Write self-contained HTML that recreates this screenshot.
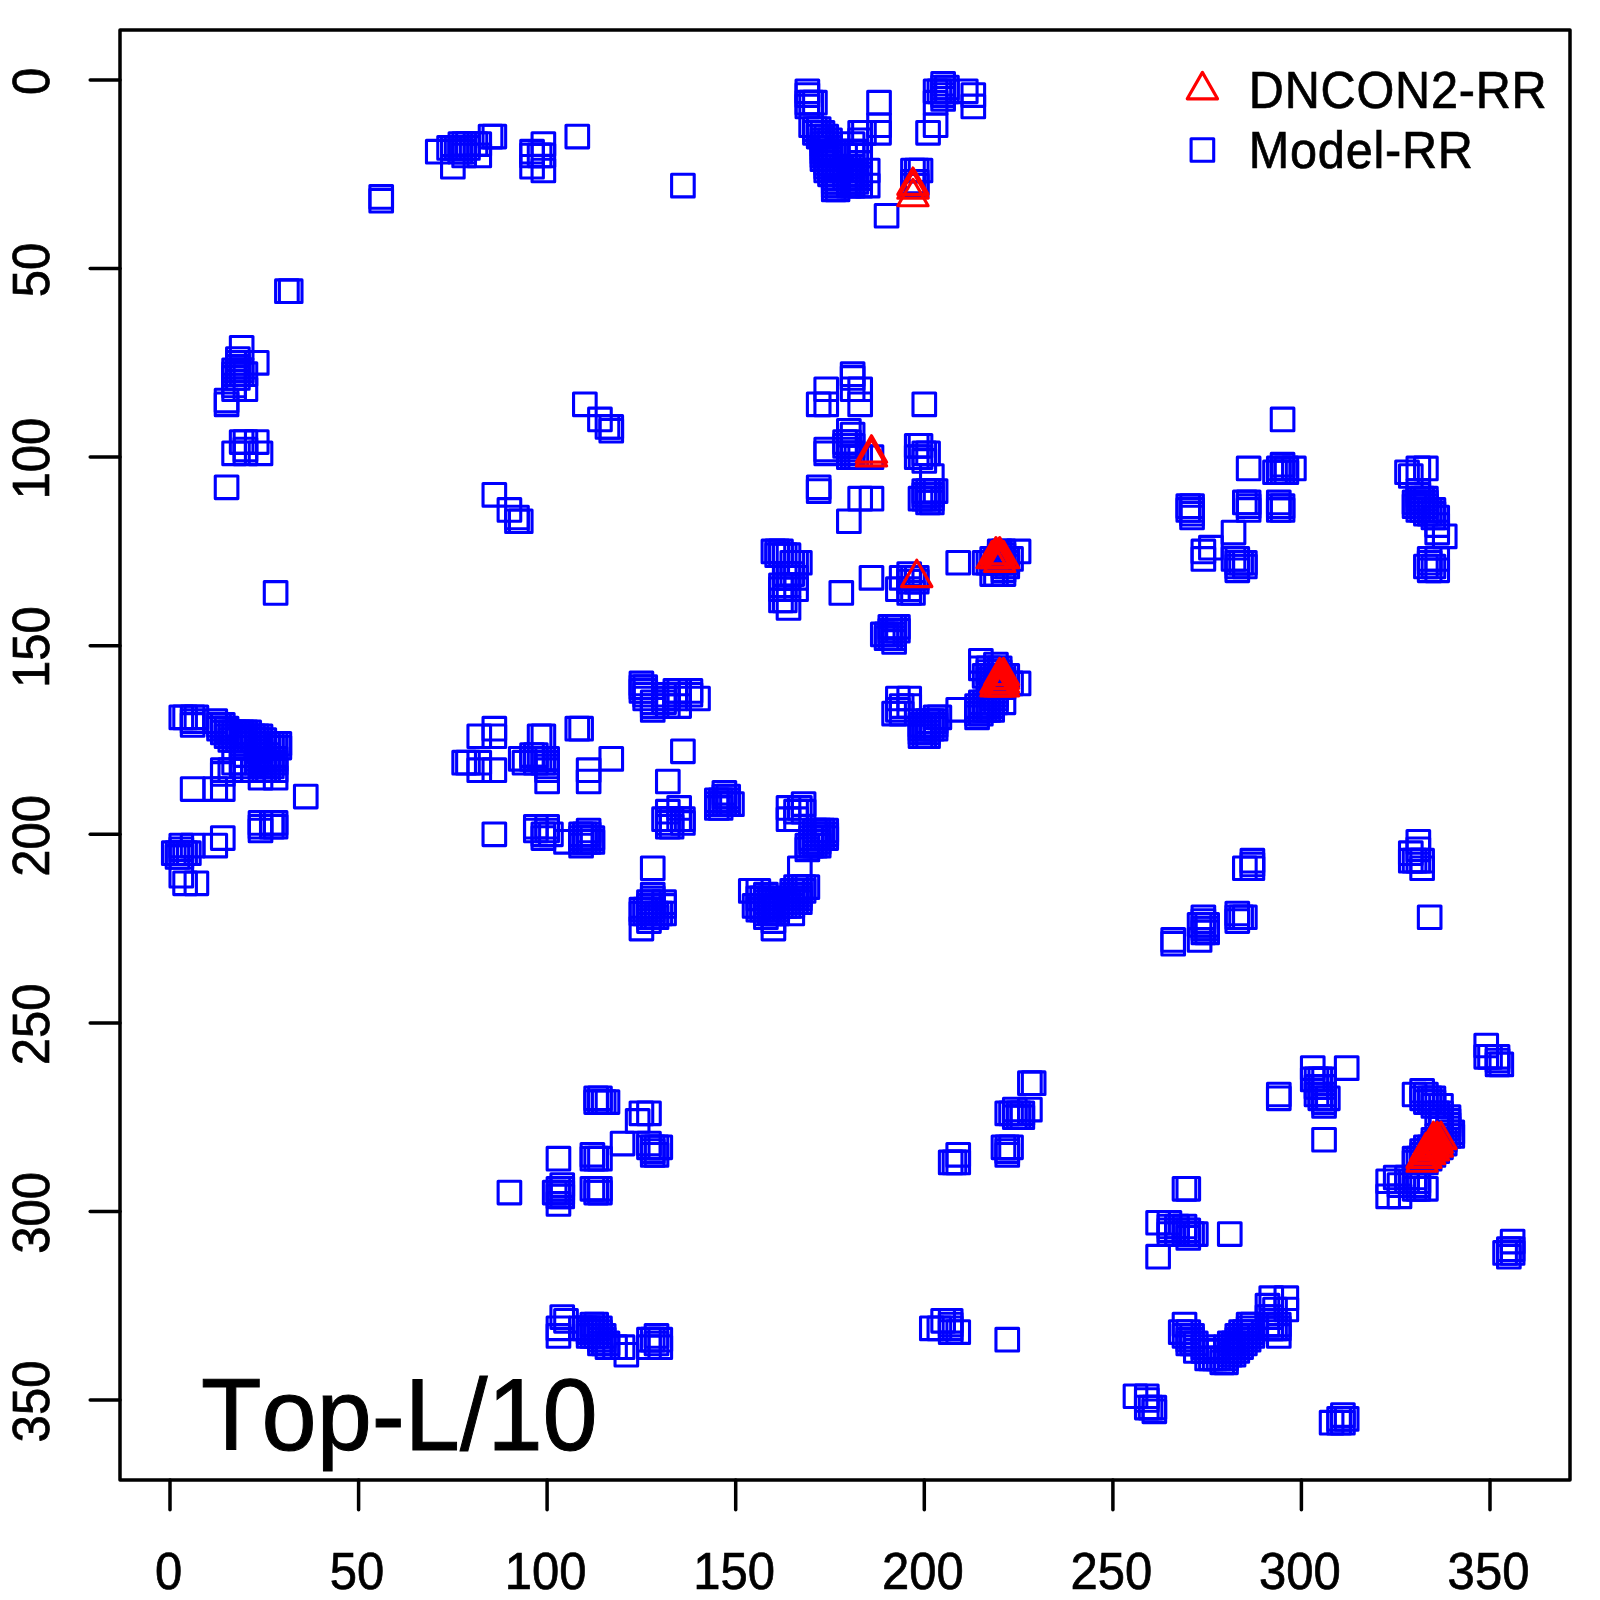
<!DOCTYPE html><html><head><meta charset="utf-8"><title>Top-L/10</title>
<style>html,body{margin:0;padding:0;background:#fff}svg{display:block}text{font-family:"Liberation Sans",sans-serif;fill:#000}</style></head><body>
<svg width="1600" height="1600" viewBox="0 0 1600 1600">
<rect width="1600" height="1600" fill="#fff"/>
<defs><rect id="s" x="-11.3" y="-11.3" width="22.6" height="22.6" fill="none" stroke="#0000ff" stroke-width="3.1" stroke-linejoin="round"/>
<path id="t" d="M0 -17.6 L15.15 8.8 L-15.15 8.8 Z" fill="none" stroke="#ff0000" stroke-width="3.15" stroke-linejoin="round"/></defs>
<g>
<use href="#s" x="381.20" y="196.91"/>
<use href="#s" x="286.91" y="291.20"/>
<use href="#s" x="381.20" y="200.69"/>
<use href="#s" x="290.69" y="291.20"/>
<use href="#s" x="437.77" y="151.66"/>
<use href="#s" x="241.66" y="347.77"/>
<use href="#s" x="449.09" y="147.89"/>
<use href="#s" x="237.89" y="359.09"/>
<use href="#s" x="452.86" y="147.89"/>
<use href="#s" x="237.89" y="362.86"/>
<use href="#s" x="452.86" y="166.74"/>
<use href="#s" x="256.74" y="362.86"/>
<use href="#s" x="490.57" y="136.57"/>
<use href="#s" x="226.57" y="400.57"/>
<use href="#s" x="494.34" y="136.57"/>
<use href="#s" x="226.57" y="404.34"/>
<use href="#s" x="460.40" y="144.11"/>
<use href="#s" x="234.11" y="370.40"/>
<use href="#s" x="464.17" y="144.11"/>
<use href="#s" x="234.11" y="374.17"/>
<use href="#s" x="467.94" y="144.11"/>
<use href="#s" x="234.11" y="377.94"/>
<use href="#s" x="475.49" y="144.11"/>
<use href="#s" x="234.11" y="385.49"/>
<use href="#s" x="479.26" y="144.11"/>
<use href="#s" x="234.11" y="389.26"/>
<use href="#s" x="456.63" y="147.89"/>
<use href="#s" x="237.89" y="366.63"/>
<use href="#s" x="460.40" y="147.89"/>
<use href="#s" x="237.89" y="370.40"/>
<use href="#s" x="464.17" y="147.89"/>
<use href="#s" x="237.89" y="374.17"/>
<use href="#s" x="467.94" y="147.89"/>
<use href="#s" x="237.89" y="377.94"/>
<use href="#s" x="460.40" y="151.66"/>
<use href="#s" x="241.66" y="370.40"/>
<use href="#s" x="464.17" y="151.66"/>
<use href="#s" x="241.66" y="374.17"/>
<use href="#s" x="464.17" y="155.43"/>
<use href="#s" x="245.43" y="374.17"/>
<use href="#s" x="479.26" y="155.43"/>
<use href="#s" x="245.43" y="389.26"/>
<use href="#s" x="532.06" y="151.66"/>
<use href="#s" x="241.66" y="442.06"/>
<use href="#s" x="532.06" y="155.43"/>
<use href="#s" x="245.43" y="442.06"/>
<use href="#s" x="543.37" y="144.11"/>
<use href="#s" x="234.11" y="453.37"/>
<use href="#s" x="543.37" y="155.43"/>
<use href="#s" x="245.43" y="453.37"/>
<use href="#s" x="539.60" y="155.43"/>
<use href="#s" x="245.43" y="449.60"/>
<use href="#s" x="532.06" y="166.74"/>
<use href="#s" x="256.74" y="442.06"/>
<use href="#s" x="543.37" y="170.51"/>
<use href="#s" x="260.51" y="453.37"/>
<use href="#s" x="577.31" y="136.57"/>
<use href="#s" x="226.57" y="487.31"/>
<use href="#s" x="682.91" y="185.60"/>
<use href="#s" x="275.60" y="592.91"/>
<use href="#s" x="807.37" y="91.31"/>
<use href="#s" x="181.31" y="717.37"/>
<use href="#s" x="807.37" y="95.09"/>
<use href="#s" x="185.09" y="717.37"/>
<use href="#s" x="807.37" y="102.63"/>
<use href="#s" x="192.63" y="717.37"/>
<use href="#s" x="811.14" y="102.63"/>
<use href="#s" x="192.63" y="721.14"/>
<use href="#s" x="814.91" y="102.63"/>
<use href="#s" x="192.63" y="724.91"/>
<use href="#s" x="807.37" y="106.40"/>
<use href="#s" x="196.40" y="717.37"/>
<use href="#s" x="811.14" y="125.26"/>
<use href="#s" x="215.26" y="721.14"/>
<use href="#s" x="814.91" y="129.03"/>
<use href="#s" x="219.03" y="724.91"/>
<use href="#s" x="818.69" y="129.03"/>
<use href="#s" x="219.03" y="728.69"/>
<use href="#s" x="814.91" y="132.80"/>
<use href="#s" x="222.80" y="724.91"/>
<use href="#s" x="818.69" y="132.80"/>
<use href="#s" x="222.80" y="728.69"/>
<use href="#s" x="822.46" y="132.80"/>
<use href="#s" x="222.80" y="732.46"/>
<use href="#s" x="818.69" y="136.57"/>
<use href="#s" x="226.57" y="728.69"/>
<use href="#s" x="822.46" y="136.57"/>
<use href="#s" x="226.57" y="732.46"/>
<use href="#s" x="826.23" y="136.57"/>
<use href="#s" x="226.57" y="736.23"/>
<use href="#s" x="822.46" y="140.34"/>
<use href="#s" x="230.34" y="732.46"/>
<use href="#s" x="826.23" y="140.34"/>
<use href="#s" x="230.34" y="736.23"/>
<use href="#s" x="830.00" y="140.34"/>
<use href="#s" x="230.34" y="740.00"/>
<use href="#s" x="822.46" y="144.11"/>
<use href="#s" x="234.11" y="732.46"/>
<use href="#s" x="826.23" y="144.11"/>
<use href="#s" x="234.11" y="736.23"/>
<use href="#s" x="830.00" y="144.11"/>
<use href="#s" x="234.11" y="740.00"/>
<use href="#s" x="822.46" y="147.89"/>
<use href="#s" x="237.89" y="732.46"/>
<use href="#s" x="826.23" y="147.89"/>
<use href="#s" x="237.89" y="736.23"/>
<use href="#s" x="830.00" y="147.89"/>
<use href="#s" x="237.89" y="740.00"/>
<use href="#s" x="822.46" y="151.66"/>
<use href="#s" x="241.66" y="732.46"/>
<use href="#s" x="826.23" y="151.66"/>
<use href="#s" x="241.66" y="736.23"/>
<use href="#s" x="830.00" y="151.66"/>
<use href="#s" x="241.66" y="740.00"/>
<use href="#s" x="833.77" y="151.66"/>
<use href="#s" x="241.66" y="743.77"/>
<use href="#s" x="837.54" y="151.66"/>
<use href="#s" x="241.66" y="747.54"/>
<use href="#s" x="822.46" y="155.43"/>
<use href="#s" x="245.43" y="732.46"/>
<use href="#s" x="826.23" y="155.43"/>
<use href="#s" x="245.43" y="736.23"/>
<use href="#s" x="830.00" y="155.43"/>
<use href="#s" x="245.43" y="740.00"/>
<use href="#s" x="833.77" y="155.43"/>
<use href="#s" x="245.43" y="743.77"/>
<use href="#s" x="837.54" y="155.43"/>
<use href="#s" x="245.43" y="747.54"/>
<use href="#s" x="822.46" y="159.20"/>
<use href="#s" x="249.20" y="732.46"/>
<use href="#s" x="826.23" y="159.20"/>
<use href="#s" x="249.20" y="736.23"/>
<use href="#s" x="830.00" y="159.20"/>
<use href="#s" x="249.20" y="740.00"/>
<use href="#s" x="826.23" y="162.97"/>
<use href="#s" x="252.97" y="736.23"/>
<use href="#s" x="830.00" y="162.97"/>
<use href="#s" x="252.97" y="740.00"/>
<use href="#s" x="826.23" y="166.74"/>
<use href="#s" x="256.74" y="736.23"/>
<use href="#s" x="830.00" y="166.74"/>
<use href="#s" x="256.74" y="740.00"/>
<use href="#s" x="833.77" y="166.74"/>
<use href="#s" x="256.74" y="743.77"/>
<use href="#s" x="837.54" y="166.74"/>
<use href="#s" x="256.74" y="747.54"/>
<use href="#s" x="826.23" y="170.51"/>
<use href="#s" x="260.51" y="736.23"/>
<use href="#s" x="830.00" y="170.51"/>
<use href="#s" x="260.51" y="740.00"/>
<use href="#s" x="833.77" y="170.51"/>
<use href="#s" x="260.51" y="743.77"/>
<use href="#s" x="837.54" y="170.51"/>
<use href="#s" x="260.51" y="747.54"/>
<use href="#s" x="830.00" y="174.29"/>
<use href="#s" x="264.29" y="740.00"/>
<use href="#s" x="833.77" y="174.29"/>
<use href="#s" x="264.29" y="743.77"/>
<use href="#s" x="837.54" y="174.29"/>
<use href="#s" x="264.29" y="747.54"/>
<use href="#s" x="833.77" y="178.06"/>
<use href="#s" x="268.06" y="743.77"/>
<use href="#s" x="837.54" y="178.06"/>
<use href="#s" x="268.06" y="747.54"/>
<use href="#s" x="833.77" y="181.83"/>
<use href="#s" x="271.83" y="743.77"/>
<use href="#s" x="837.54" y="181.83"/>
<use href="#s" x="271.83" y="747.54"/>
<use href="#s" x="833.77" y="185.60"/>
<use href="#s" x="275.60" y="743.77"/>
<use href="#s" x="837.54" y="185.60"/>
<use href="#s" x="275.60" y="747.54"/>
<use href="#s" x="833.77" y="189.37"/>
<use href="#s" x="279.37" y="743.77"/>
<use href="#s" x="837.54" y="189.37"/>
<use href="#s" x="279.37" y="747.54"/>
<use href="#s" x="879.03" y="102.63"/>
<use href="#s" x="192.63" y="789.03"/>
<use href="#s" x="879.03" y="132.80"/>
<use href="#s" x="222.80" y="789.03"/>
<use href="#s" x="879.03" y="125.26"/>
<use href="#s" x="215.26" y="789.03"/>
<use href="#s" x="860.17" y="132.80"/>
<use href="#s" x="222.80" y="770.17"/>
<use href="#s" x="863.94" y="132.80"/>
<use href="#s" x="222.80" y="773.94"/>
<use href="#s" x="860.17" y="140.34"/>
<use href="#s" x="230.34" y="770.17"/>
<use href="#s" x="852.63" y="144.11"/>
<use href="#s" x="234.11" y="762.63"/>
<use href="#s" x="852.63" y="151.66"/>
<use href="#s" x="241.66" y="762.63"/>
<use href="#s" x="856.40" y="151.66"/>
<use href="#s" x="241.66" y="766.40"/>
<use href="#s" x="845.09" y="155.43"/>
<use href="#s" x="245.43" y="755.09"/>
<use href="#s" x="860.17" y="155.43"/>
<use href="#s" x="245.43" y="770.17"/>
<use href="#s" x="860.17" y="162.97"/>
<use href="#s" x="252.97" y="770.17"/>
<use href="#s" x="867.71" y="170.51"/>
<use href="#s" x="260.51" y="777.71"/>
<use href="#s" x="867.71" y="185.60"/>
<use href="#s" x="275.60" y="777.71"/>
<use href="#s" x="841.31" y="166.74"/>
<use href="#s" x="256.74" y="751.31"/>
<use href="#s" x="845.09" y="166.74"/>
<use href="#s" x="256.74" y="755.09"/>
<use href="#s" x="848.86" y="166.74"/>
<use href="#s" x="256.74" y="758.86"/>
<use href="#s" x="852.63" y="166.74"/>
<use href="#s" x="256.74" y="762.63"/>
<use href="#s" x="841.31" y="170.51"/>
<use href="#s" x="260.51" y="751.31"/>
<use href="#s" x="845.09" y="170.51"/>
<use href="#s" x="260.51" y="755.09"/>
<use href="#s" x="848.86" y="170.51"/>
<use href="#s" x="260.51" y="758.86"/>
<use href="#s" x="852.63" y="170.51"/>
<use href="#s" x="260.51" y="762.63"/>
<use href="#s" x="856.40" y="170.51"/>
<use href="#s" x="260.51" y="766.40"/>
<use href="#s" x="845.09" y="174.29"/>
<use href="#s" x="264.29" y="755.09"/>
<use href="#s" x="848.86" y="174.29"/>
<use href="#s" x="264.29" y="758.86"/>
<use href="#s" x="852.63" y="174.29"/>
<use href="#s" x="264.29" y="762.63"/>
<use href="#s" x="856.40" y="174.29"/>
<use href="#s" x="264.29" y="766.40"/>
<use href="#s" x="860.17" y="174.29"/>
<use href="#s" x="264.29" y="770.17"/>
<use href="#s" x="845.09" y="178.06"/>
<use href="#s" x="268.06" y="755.09"/>
<use href="#s" x="848.86" y="178.06"/>
<use href="#s" x="268.06" y="758.86"/>
<use href="#s" x="852.63" y="178.06"/>
<use href="#s" x="268.06" y="762.63"/>
<use href="#s" x="856.40" y="178.06"/>
<use href="#s" x="268.06" y="766.40"/>
<use href="#s" x="860.17" y="178.06"/>
<use href="#s" x="268.06" y="770.17"/>
<use href="#s" x="848.86" y="181.83"/>
<use href="#s" x="271.83" y="758.86"/>
<use href="#s" x="852.63" y="181.83"/>
<use href="#s" x="271.83" y="762.63"/>
<use href="#s" x="856.40" y="181.83"/>
<use href="#s" x="271.83" y="766.40"/>
<use href="#s" x="848.86" y="185.60"/>
<use href="#s" x="275.60" y="758.86"/>
<use href="#s" x="852.63" y="185.60"/>
<use href="#s" x="275.60" y="762.63"/>
<use href="#s" x="860.17" y="185.60"/>
<use href="#s" x="275.60" y="770.17"/>
<use href="#s" x="943.14" y="83.77"/>
<use href="#s" x="173.77" y="853.14"/>
<use href="#s" x="943.14" y="87.54"/>
<use href="#s" x="177.54" y="853.14"/>
<use href="#s" x="943.14" y="91.31"/>
<use href="#s" x="181.31" y="853.14"/>
<use href="#s" x="943.14" y="95.09"/>
<use href="#s" x="185.09" y="853.14"/>
<use href="#s" x="943.14" y="98.86"/>
<use href="#s" x="188.86" y="853.14"/>
<use href="#s" x="935.60" y="91.31"/>
<use href="#s" x="181.31" y="845.60"/>
<use href="#s" x="935.60" y="102.63"/>
<use href="#s" x="192.63" y="845.60"/>
<use href="#s" x="939.37" y="91.31"/>
<use href="#s" x="181.31" y="849.37"/>
<use href="#s" x="946.91" y="87.54"/>
<use href="#s" x="177.54" y="856.91"/>
<use href="#s" x="946.91" y="91.31"/>
<use href="#s" x="181.31" y="856.91"/>
<use href="#s" x="965.77" y="91.31"/>
<use href="#s" x="181.31" y="875.77"/>
<use href="#s" x="973.31" y="95.09"/>
<use href="#s" x="185.09" y="883.31"/>
<use href="#s" x="973.31" y="106.40"/>
<use href="#s" x="196.40" y="883.31"/>
<use href="#s" x="935.60" y="125.26"/>
<use href="#s" x="215.26" y="845.60"/>
<use href="#s" x="928.06" y="132.80"/>
<use href="#s" x="222.80" y="838.06"/>
<use href="#s" x="912.97" y="170.51"/>
<use href="#s" x="260.51" y="822.97"/>
<use href="#s" x="916.74" y="170.51"/>
<use href="#s" x="260.51" y="826.74"/>
<use href="#s" x="920.51" y="170.51"/>
<use href="#s" x="260.51" y="830.51"/>
<use href="#s" x="912.97" y="181.83"/>
<use href="#s" x="271.83" y="822.97"/>
<use href="#s" x="912.97" y="185.60"/>
<use href="#s" x="275.60" y="822.97"/>
<use href="#s" x="916.74" y="181.83"/>
<use href="#s" x="271.83" y="826.74"/>
<use href="#s" x="916.74" y="185.60"/>
<use href="#s" x="275.60" y="826.74"/>
<use href="#s" x="886.57" y="215.77"/>
<use href="#s" x="305.77" y="796.57"/>
<use href="#s" x="584.86" y="404.34"/>
<use href="#s" x="494.34" y="494.86"/>
<use href="#s" x="599.94" y="419.43"/>
<use href="#s" x="509.43" y="509.94"/>
<use href="#s" x="607.49" y="426.97"/>
<use href="#s" x="516.97" y="517.49"/>
<use href="#s" x="611.26" y="426.97"/>
<use href="#s" x="516.97" y="521.26"/>
<use href="#s" x="611.26" y="430.74"/>
<use href="#s" x="520.74" y="521.26"/>
<use href="#s" x="924.29" y="404.34"/>
<use href="#s" x="494.34" y="834.29"/>
<use href="#s" x="848.86" y="521.26"/>
<use href="#s" x="611.26" y="758.86"/>
<use href="#s" x="818.69" y="487.31"/>
<use href="#s" x="577.31" y="728.69"/>
<use href="#s" x="818.69" y="491.09"/>
<use href="#s" x="581.09" y="728.69"/>
<use href="#s" x="860.17" y="498.63"/>
<use href="#s" x="588.63" y="770.17"/>
<use href="#s" x="871.49" y="498.63"/>
<use href="#s" x="588.63" y="781.49"/>
<use href="#s" x="852.63" y="374.17"/>
<use href="#s" x="464.17" y="762.63"/>
<use href="#s" x="852.63" y="377.94"/>
<use href="#s" x="467.94" y="762.63"/>
<use href="#s" x="852.63" y="389.26"/>
<use href="#s" x="479.26" y="762.63"/>
<use href="#s" x="826.23" y="389.26"/>
<use href="#s" x="479.26" y="736.23"/>
<use href="#s" x="818.69" y="404.34"/>
<use href="#s" x="494.34" y="728.69"/>
<use href="#s" x="826.23" y="404.34"/>
<use href="#s" x="494.34" y="736.23"/>
<use href="#s" x="860.17" y="389.26"/>
<use href="#s" x="479.26" y="770.17"/>
<use href="#s" x="860.17" y="404.34"/>
<use href="#s" x="494.34" y="770.17"/>
<use href="#s" x="826.23" y="449.60"/>
<use href="#s" x="539.60" y="736.23"/>
<use href="#s" x="826.23" y="453.37"/>
<use href="#s" x="543.37" y="736.23"/>
<use href="#s" x="848.86" y="430.74"/>
<use href="#s" x="520.74" y="758.86"/>
<use href="#s" x="852.63" y="434.51"/>
<use href="#s" x="524.51" y="762.63"/>
<use href="#s" x="871.49" y="457.14"/>
<use href="#s" x="547.14" y="781.49"/>
<use href="#s" x="845.09" y="442.06"/>
<use href="#s" x="532.06" y="755.09"/>
<use href="#s" x="845.09" y="445.83"/>
<use href="#s" x="535.83" y="755.09"/>
<use href="#s" x="848.86" y="442.06"/>
<use href="#s" x="532.06" y="758.86"/>
<use href="#s" x="848.86" y="445.83"/>
<use href="#s" x="535.83" y="758.86"/>
<use href="#s" x="848.86" y="449.60"/>
<use href="#s" x="539.60" y="758.86"/>
<use href="#s" x="848.86" y="453.37"/>
<use href="#s" x="543.37" y="758.86"/>
<use href="#s" x="848.86" y="457.14"/>
<use href="#s" x="547.14" y="758.86"/>
<use href="#s" x="852.63" y="445.83"/>
<use href="#s" x="535.83" y="762.63"/>
<use href="#s" x="852.63" y="453.37"/>
<use href="#s" x="543.37" y="762.63"/>
<use href="#s" x="852.63" y="457.14"/>
<use href="#s" x="547.14" y="762.63"/>
<use href="#s" x="856.40" y="457.14"/>
<use href="#s" x="547.14" y="766.40"/>
<use href="#s" x="860.17" y="457.14"/>
<use href="#s" x="547.14" y="770.17"/>
<use href="#s" x="916.74" y="445.83"/>
<use href="#s" x="535.83" y="826.74"/>
<use href="#s" x="920.51" y="445.83"/>
<use href="#s" x="535.83" y="830.51"/>
<use href="#s" x="916.74" y="457.14"/>
<use href="#s" x="547.14" y="826.74"/>
<use href="#s" x="920.51" y="457.14"/>
<use href="#s" x="547.14" y="830.51"/>
<use href="#s" x="924.29" y="453.37"/>
<use href="#s" x="543.37" y="834.29"/>
<use href="#s" x="928.06" y="453.37"/>
<use href="#s" x="543.37" y="838.06"/>
<use href="#s" x="924.29" y="460.91"/>
<use href="#s" x="550.91" y="834.29"/>
<use href="#s" x="931.83" y="476.00"/>
<use href="#s" x="566.00" y="841.83"/>
<use href="#s" x="924.29" y="491.09"/>
<use href="#s" x="581.09" y="834.29"/>
<use href="#s" x="928.06" y="491.09"/>
<use href="#s" x="581.09" y="838.06"/>
<use href="#s" x="931.83" y="491.09"/>
<use href="#s" x="581.09" y="841.83"/>
<use href="#s" x="935.60" y="491.09"/>
<use href="#s" x="581.09" y="845.60"/>
<use href="#s" x="924.29" y="494.86"/>
<use href="#s" x="584.86" y="834.29"/>
<use href="#s" x="928.06" y="494.86"/>
<use href="#s" x="584.86" y="838.06"/>
<use href="#s" x="931.83" y="494.86"/>
<use href="#s" x="584.86" y="841.83"/>
<use href="#s" x="920.51" y="498.63"/>
<use href="#s" x="588.63" y="830.51"/>
<use href="#s" x="924.29" y="498.63"/>
<use href="#s" x="588.63" y="834.29"/>
<use href="#s" x="928.06" y="498.63"/>
<use href="#s" x="588.63" y="838.06"/>
<use href="#s" x="931.83" y="498.63"/>
<use href="#s" x="588.63" y="841.83"/>
<use href="#s" x="928.06" y="502.40"/>
<use href="#s" x="592.40" y="838.06"/>
<use href="#s" x="931.83" y="502.40"/>
<use href="#s" x="592.40" y="841.83"/>
<use href="#s" x="773.43" y="551.43"/>
<use href="#s" x="641.43" y="683.43"/>
<use href="#s" x="777.20" y="551.43"/>
<use href="#s" x="641.43" y="687.20"/>
<use href="#s" x="780.97" y="551.43"/>
<use href="#s" x="641.43" y="690.97"/>
<use href="#s" x="777.20" y="555.20"/>
<use href="#s" x="645.20" y="687.20"/>
<use href="#s" x="780.97" y="555.20"/>
<use href="#s" x="645.20" y="690.97"/>
<use href="#s" x="784.74" y="555.20"/>
<use href="#s" x="645.20" y="694.74"/>
<use href="#s" x="788.51" y="555.20"/>
<use href="#s" x="645.20" y="698.51"/>
<use href="#s" x="792.29" y="562.74"/>
<use href="#s" x="652.74" y="702.29"/>
<use href="#s" x="796.06" y="562.74"/>
<use href="#s" x="652.74" y="706.06"/>
<use href="#s" x="799.83" y="562.74"/>
<use href="#s" x="652.74" y="709.83"/>
<use href="#s" x="784.74" y="574.06"/>
<use href="#s" x="664.06" y="694.74"/>
<use href="#s" x="788.51" y="574.06"/>
<use href="#s" x="664.06" y="698.51"/>
<use href="#s" x="792.29" y="574.06"/>
<use href="#s" x="664.06" y="702.29"/>
<use href="#s" x="788.51" y="577.83"/>
<use href="#s" x="667.83" y="698.51"/>
<use href="#s" x="796.06" y="577.83"/>
<use href="#s" x="667.83" y="706.06"/>
<use href="#s" x="780.97" y="585.37"/>
<use href="#s" x="675.37" y="690.97"/>
<use href="#s" x="784.74" y="585.37"/>
<use href="#s" x="675.37" y="694.74"/>
<use href="#s" x="788.51" y="585.37"/>
<use href="#s" x="675.37" y="698.51"/>
<use href="#s" x="780.97" y="589.14"/>
<use href="#s" x="679.14" y="690.97"/>
<use href="#s" x="796.06" y="589.14"/>
<use href="#s" x="679.14" y="706.06"/>
<use href="#s" x="780.97" y="600.46"/>
<use href="#s" x="690.46" y="690.97"/>
<use href="#s" x="784.74" y="600.46"/>
<use href="#s" x="690.46" y="694.74"/>
<use href="#s" x="788.51" y="608.00"/>
<use href="#s" x="698.00" y="698.51"/>
<use href="#s" x="841.31" y="592.91"/>
<use href="#s" x="682.91" y="751.31"/>
<use href="#s" x="871.49" y="577.83"/>
<use href="#s" x="667.83" y="781.49"/>
<use href="#s" x="958.23" y="562.74"/>
<use href="#s" x="652.74" y="868.23"/>
<use href="#s" x="901.66" y="577.83"/>
<use href="#s" x="667.83" y="811.66"/>
<use href="#s" x="897.89" y="589.14"/>
<use href="#s" x="679.14" y="807.89"/>
<use href="#s" x="909.20" y="574.06"/>
<use href="#s" x="664.06" y="819.20"/>
<use href="#s" x="909.20" y="577.83"/>
<use href="#s" x="667.83" y="819.20"/>
<use href="#s" x="912.97" y="577.83"/>
<use href="#s" x="667.83" y="822.97"/>
<use href="#s" x="916.74" y="577.83"/>
<use href="#s" x="667.83" y="826.74"/>
<use href="#s" x="916.74" y="581.60"/>
<use href="#s" x="671.60" y="826.74"/>
<use href="#s" x="909.20" y="581.60"/>
<use href="#s" x="671.60" y="819.20"/>
<use href="#s" x="909.20" y="592.91"/>
<use href="#s" x="682.91" y="819.20"/>
<use href="#s" x="912.97" y="592.91"/>
<use href="#s" x="682.91" y="822.97"/>
<use href="#s" x="909.20" y="589.14"/>
<use href="#s" x="679.14" y="819.20"/>
<use href="#s" x="999.71" y="551.43"/>
<use href="#s" x="641.43" y="909.71"/>
<use href="#s" x="1003.49" y="551.43"/>
<use href="#s" x="641.43" y="913.49"/>
<use href="#s" x="1018.57" y="551.43"/>
<use href="#s" x="641.43" y="928.57"/>
<use href="#s" x="992.17" y="558.97"/>
<use href="#s" x="648.97" y="902.17"/>
<use href="#s" x="1011.03" y="558.97"/>
<use href="#s" x="648.97" y="921.03"/>
<use href="#s" x="984.63" y="562.74"/>
<use href="#s" x="652.74" y="894.63"/>
<use href="#s" x="988.40" y="562.74"/>
<use href="#s" x="652.74" y="898.40"/>
<use href="#s" x="1007.26" y="566.51"/>
<use href="#s" x="656.51" y="917.26"/>
<use href="#s" x="1003.49" y="570.29"/>
<use href="#s" x="660.29" y="913.49"/>
<use href="#s" x="992.17" y="574.06"/>
<use href="#s" x="664.06" y="902.17"/>
<use href="#s" x="1003.49" y="574.06"/>
<use href="#s" x="664.06" y="913.49"/>
<use href="#s" x="995.94" y="574.06"/>
<use href="#s" x="664.06" y="905.94"/>
<use href="#s" x="890.34" y="626.86"/>
<use href="#s" x="716.86" y="800.34"/>
<use href="#s" x="894.11" y="626.86"/>
<use href="#s" x="716.86" y="804.11"/>
<use href="#s" x="897.89" y="626.86"/>
<use href="#s" x="716.86" y="807.89"/>
<use href="#s" x="890.34" y="630.63"/>
<use href="#s" x="720.63" y="800.34"/>
<use href="#s" x="894.11" y="630.63"/>
<use href="#s" x="720.63" y="804.11"/>
<use href="#s" x="897.89" y="630.63"/>
<use href="#s" x="720.63" y="807.89"/>
<use href="#s" x="882.80" y="634.40"/>
<use href="#s" x="724.40" y="792.80"/>
<use href="#s" x="886.57" y="634.40"/>
<use href="#s" x="724.40" y="796.57"/>
<use href="#s" x="890.34" y="634.40"/>
<use href="#s" x="724.40" y="800.34"/>
<use href="#s" x="894.11" y="634.40"/>
<use href="#s" x="724.40" y="804.11"/>
<use href="#s" x="886.57" y="638.17"/>
<use href="#s" x="728.17" y="796.57"/>
<use href="#s" x="890.34" y="638.17"/>
<use href="#s" x="728.17" y="800.34"/>
<use href="#s" x="894.11" y="638.17"/>
<use href="#s" x="728.17" y="804.11"/>
<use href="#s" x="894.11" y="641.94"/>
<use href="#s" x="731.94" y="804.11"/>
<use href="#s" x="897.89" y="698.51"/>
<use href="#s" x="788.51" y="807.89"/>
<use href="#s" x="909.20" y="698.51"/>
<use href="#s" x="788.51" y="819.20"/>
<use href="#s" x="909.20" y="706.06"/>
<use href="#s" x="796.06" y="819.20"/>
<use href="#s" x="901.66" y="706.06"/>
<use href="#s" x="796.06" y="811.66"/>
<use href="#s" x="897.89" y="709.83"/>
<use href="#s" x="799.83" y="807.89"/>
<use href="#s" x="894.11" y="713.60"/>
<use href="#s" x="803.60" y="804.11"/>
<use href="#s" x="901.66" y="713.60"/>
<use href="#s" x="803.60" y="811.66"/>
<use href="#s" x="958.23" y="709.83"/>
<use href="#s" x="799.83" y="868.23"/>
<use href="#s" x="935.60" y="717.37"/>
<use href="#s" x="807.37" y="845.60"/>
<use href="#s" x="939.37" y="717.37"/>
<use href="#s" x="807.37" y="849.37"/>
<use href="#s" x="928.06" y="721.14"/>
<use href="#s" x="811.14" y="838.06"/>
<use href="#s" x="931.83" y="721.14"/>
<use href="#s" x="811.14" y="841.83"/>
<use href="#s" x="935.60" y="721.14"/>
<use href="#s" x="811.14" y="845.60"/>
<use href="#s" x="920.51" y="724.91"/>
<use href="#s" x="814.91" y="830.51"/>
<use href="#s" x="924.29" y="724.91"/>
<use href="#s" x="814.91" y="834.29"/>
<use href="#s" x="928.06" y="724.91"/>
<use href="#s" x="814.91" y="838.06"/>
<use href="#s" x="931.83" y="724.91"/>
<use href="#s" x="814.91" y="841.83"/>
<use href="#s" x="935.60" y="724.91"/>
<use href="#s" x="814.91" y="845.60"/>
<use href="#s" x="920.51" y="728.69"/>
<use href="#s" x="818.69" y="830.51"/>
<use href="#s" x="924.29" y="728.69"/>
<use href="#s" x="818.69" y="834.29"/>
<use href="#s" x="928.06" y="728.69"/>
<use href="#s" x="818.69" y="838.06"/>
<use href="#s" x="931.83" y="728.69"/>
<use href="#s" x="818.69" y="841.83"/>
<use href="#s" x="935.60" y="728.69"/>
<use href="#s" x="818.69" y="845.60"/>
<use href="#s" x="920.51" y="732.46"/>
<use href="#s" x="822.46" y="830.51"/>
<use href="#s" x="924.29" y="732.46"/>
<use href="#s" x="822.46" y="834.29"/>
<use href="#s" x="928.06" y="732.46"/>
<use href="#s" x="822.46" y="838.06"/>
<use href="#s" x="920.51" y="736.23"/>
<use href="#s" x="826.23" y="830.51"/>
<use href="#s" x="924.29" y="736.23"/>
<use href="#s" x="826.23" y="834.29"/>
<use href="#s" x="928.06" y="736.23"/>
<use href="#s" x="826.23" y="838.06"/>
<use href="#s" x="980.86" y="660.80"/>
<use href="#s" x="750.80" y="890.86"/>
<use href="#s" x="980.86" y="668.34"/>
<use href="#s" x="758.34" y="890.86"/>
<use href="#s" x="988.40" y="668.34"/>
<use href="#s" x="758.34" y="898.40"/>
<use href="#s" x="984.63" y="675.89"/>
<use href="#s" x="765.89" y="894.63"/>
<use href="#s" x="988.40" y="672.11"/>
<use href="#s" x="762.11" y="898.40"/>
<use href="#s" x="988.40" y="675.89"/>
<use href="#s" x="765.89" y="898.40"/>
<use href="#s" x="988.40" y="679.66"/>
<use href="#s" x="769.66" y="898.40"/>
<use href="#s" x="992.17" y="675.89"/>
<use href="#s" x="765.89" y="902.17"/>
<use href="#s" x="992.17" y="679.66"/>
<use href="#s" x="769.66" y="902.17"/>
<use href="#s" x="992.17" y="683.43"/>
<use href="#s" x="773.43" y="902.17"/>
<use href="#s" x="995.94" y="664.57"/>
<use href="#s" x="754.57" y="905.94"/>
<use href="#s" x="995.94" y="668.34"/>
<use href="#s" x="758.34" y="905.94"/>
<use href="#s" x="995.94" y="672.11"/>
<use href="#s" x="762.11" y="905.94"/>
<use href="#s" x="999.71" y="668.34"/>
<use href="#s" x="758.34" y="909.71"/>
<use href="#s" x="999.71" y="672.11"/>
<use href="#s" x="762.11" y="909.71"/>
<use href="#s" x="1007.26" y="675.89"/>
<use href="#s" x="765.89" y="917.26"/>
<use href="#s" x="1011.03" y="683.43"/>
<use href="#s" x="773.43" y="921.03"/>
<use href="#s" x="1018.57" y="683.43"/>
<use href="#s" x="773.43" y="928.57"/>
<use href="#s" x="980.86" y="702.29"/>
<use href="#s" x="792.29" y="890.86"/>
<use href="#s" x="984.63" y="702.29"/>
<use href="#s" x="792.29" y="894.63"/>
<use href="#s" x="988.40" y="702.29"/>
<use href="#s" x="792.29" y="898.40"/>
<use href="#s" x="992.17" y="702.29"/>
<use href="#s" x="792.29" y="902.17"/>
<use href="#s" x="995.94" y="702.29"/>
<use href="#s" x="792.29" y="905.94"/>
<use href="#s" x="1003.49" y="702.29"/>
<use href="#s" x="792.29" y="913.49"/>
<use href="#s" x="977.09" y="706.06"/>
<use href="#s" x="796.06" y="887.09"/>
<use href="#s" x="980.86" y="706.06"/>
<use href="#s" x="796.06" y="890.86"/>
<use href="#s" x="984.63" y="706.06"/>
<use href="#s" x="796.06" y="894.63"/>
<use href="#s" x="988.40" y="706.06"/>
<use href="#s" x="796.06" y="898.40"/>
<use href="#s" x="992.17" y="706.06"/>
<use href="#s" x="796.06" y="902.17"/>
<use href="#s" x="977.09" y="709.83"/>
<use href="#s" x="799.83" y="887.09"/>
<use href="#s" x="980.86" y="709.83"/>
<use href="#s" x="799.83" y="890.86"/>
<use href="#s" x="984.63" y="709.83"/>
<use href="#s" x="799.83" y="894.63"/>
<use href="#s" x="988.40" y="709.83"/>
<use href="#s" x="799.83" y="898.40"/>
<use href="#s" x="992.17" y="709.83"/>
<use href="#s" x="799.83" y="902.17"/>
<use href="#s" x="977.09" y="713.60"/>
<use href="#s" x="803.60" y="887.09"/>
<use href="#s" x="980.86" y="713.60"/>
<use href="#s" x="803.60" y="890.86"/>
<use href="#s" x="977.09" y="717.37"/>
<use href="#s" x="807.37" y="887.09"/>
<use href="#s" x="995.94" y="675.89"/>
<use href="#s" x="765.89" y="905.94"/>
<use href="#s" x="999.71" y="675.89"/>
<use href="#s" x="765.89" y="909.71"/>
<use href="#s" x="1003.49" y="675.89"/>
<use href="#s" x="765.89" y="913.49"/>
<use href="#s" x="995.94" y="679.66"/>
<use href="#s" x="769.66" y="905.94"/>
<use href="#s" x="999.71" y="679.66"/>
<use href="#s" x="769.66" y="909.71"/>
<use href="#s" x="1003.49" y="679.66"/>
<use href="#s" x="769.66" y="913.49"/>
<use href="#s" x="995.94" y="683.43"/>
<use href="#s" x="773.43" y="905.94"/>
<use href="#s" x="999.71" y="683.43"/>
<use href="#s" x="773.43" y="909.71"/>
<use href="#s" x="1003.49" y="683.43"/>
<use href="#s" x="773.43" y="913.49"/>
<use href="#s" x="992.17" y="687.20"/>
<use href="#s" x="777.20" y="902.17"/>
<use href="#s" x="995.94" y="687.20"/>
<use href="#s" x="777.20" y="905.94"/>
<use href="#s" x="999.71" y="687.20"/>
<use href="#s" x="777.20" y="909.71"/>
<use href="#s" x="1003.49" y="687.20"/>
<use href="#s" x="777.20" y="913.49"/>
<use href="#s" x="992.17" y="690.97"/>
<use href="#s" x="780.97" y="902.17"/>
<use href="#s" x="995.94" y="690.97"/>
<use href="#s" x="780.97" y="905.94"/>
<use href="#s" x="992.17" y="694.74"/>
<use href="#s" x="784.74" y="902.17"/>
<use href="#s" x="995.94" y="694.74"/>
<use href="#s" x="784.74" y="905.94"/>
<use href="#s" x="992.17" y="698.51"/>
<use href="#s" x="788.51" y="902.17"/>
<use href="#s" x="995.94" y="698.51"/>
<use href="#s" x="788.51" y="905.94"/>
<use href="#s" x="999.71" y="555.20"/>
<use href="#s" x="645.20" y="909.71"/>
<use href="#s" x="1003.49" y="555.20"/>
<use href="#s" x="645.20" y="913.49"/>
<use href="#s" x="995.94" y="558.97"/>
<use href="#s" x="648.97" y="905.94"/>
<use href="#s" x="999.71" y="558.97"/>
<use href="#s" x="648.97" y="909.71"/>
<use href="#s" x="1003.49" y="558.97"/>
<use href="#s" x="648.97" y="913.49"/>
<use href="#s" x="1007.26" y="558.97"/>
<use href="#s" x="648.97" y="917.26"/>
<use href="#s" x="992.17" y="562.74"/>
<use href="#s" x="652.74" y="902.17"/>
<use href="#s" x="995.94" y="562.74"/>
<use href="#s" x="652.74" y="905.94"/>
<use href="#s" x="999.71" y="562.74"/>
<use href="#s" x="652.74" y="909.71"/>
<use href="#s" x="1003.49" y="562.74"/>
<use href="#s" x="652.74" y="913.49"/>
<use href="#s" x="1007.26" y="562.74"/>
<use href="#s" x="652.74" y="917.26"/>
<use href="#s" x="1003.49" y="566.51"/>
<use href="#s" x="656.51" y="913.49"/>
<use href="#s" x="1282.57" y="419.43"/>
<use href="#s" x="509.43" y="1192.57"/>
<use href="#s" x="1248.63" y="468.46"/>
<use href="#s" x="558.46" y="1158.63"/>
<use href="#s" x="1282.57" y="464.69"/>
<use href="#s" x="554.69" y="1192.57"/>
<use href="#s" x="1278.80" y="468.46"/>
<use href="#s" x="558.46" y="1188.80"/>
<use href="#s" x="1282.57" y="468.46"/>
<use href="#s" x="558.46" y="1192.57"/>
<use href="#s" x="1286.34" y="468.46"/>
<use href="#s" x="558.46" y="1196.34"/>
<use href="#s" x="1293.89" y="468.46"/>
<use href="#s" x="558.46" y="1203.89"/>
<use href="#s" x="1275.03" y="472.23"/>
<use href="#s" x="562.23" y="1185.03"/>
<use href="#s" x="1278.80" y="472.23"/>
<use href="#s" x="562.23" y="1188.80"/>
<use href="#s" x="1282.57" y="472.23"/>
<use href="#s" x="562.23" y="1192.57"/>
<use href="#s" x="1286.34" y="472.23"/>
<use href="#s" x="562.23" y="1196.34"/>
<use href="#s" x="1244.86" y="502.40"/>
<use href="#s" x="592.40" y="1154.86"/>
<use href="#s" x="1248.63" y="502.40"/>
<use href="#s" x="592.40" y="1158.63"/>
<use href="#s" x="1248.63" y="506.17"/>
<use href="#s" x="596.17" y="1158.63"/>
<use href="#s" x="1248.63" y="509.94"/>
<use href="#s" x="599.94" y="1158.63"/>
<use href="#s" x="1278.80" y="502.40"/>
<use href="#s" x="592.40" y="1188.80"/>
<use href="#s" x="1278.80" y="506.17"/>
<use href="#s" x="596.17" y="1188.80"/>
<use href="#s" x="1278.80" y="509.94"/>
<use href="#s" x="599.94" y="1188.80"/>
<use href="#s" x="1282.57" y="506.17"/>
<use href="#s" x="596.17" y="1192.57"/>
<use href="#s" x="1282.57" y="509.94"/>
<use href="#s" x="599.94" y="1192.57"/>
<use href="#s" x="1188.29" y="506.17"/>
<use href="#s" x="596.17" y="1098.29"/>
<use href="#s" x="1192.06" y="506.17"/>
<use href="#s" x="596.17" y="1102.06"/>
<use href="#s" x="1192.06" y="509.94"/>
<use href="#s" x="599.94" y="1102.06"/>
<use href="#s" x="1192.06" y="513.71"/>
<use href="#s" x="603.71" y="1102.06"/>
<use href="#s" x="1192.06" y="517.49"/>
<use href="#s" x="607.49" y="1102.06"/>
<use href="#s" x="1188.29" y="509.94"/>
<use href="#s" x="599.94" y="1098.29"/>
<use href="#s" x="1233.54" y="532.57"/>
<use href="#s" x="622.57" y="1143.54"/>
<use href="#s" x="1210.91" y="547.66"/>
<use href="#s" x="637.66" y="1120.91"/>
<use href="#s" x="1203.37" y="551.43"/>
<use href="#s" x="641.43" y="1113.37"/>
<use href="#s" x="1203.37" y="558.97"/>
<use href="#s" x="648.97" y="1113.37"/>
<use href="#s" x="1233.54" y="558.97"/>
<use href="#s" x="648.97" y="1143.54"/>
<use href="#s" x="1237.31" y="558.97"/>
<use href="#s" x="648.97" y="1147.31"/>
<use href="#s" x="1237.31" y="562.74"/>
<use href="#s" x="652.74" y="1147.31"/>
<use href="#s" x="1241.09" y="562.74"/>
<use href="#s" x="652.74" y="1151.09"/>
<use href="#s" x="1244.86" y="562.74"/>
<use href="#s" x="652.74" y="1154.86"/>
<use href="#s" x="1244.86" y="566.51"/>
<use href="#s" x="656.51" y="1154.86"/>
<use href="#s" x="1237.31" y="566.51"/>
<use href="#s" x="656.51" y="1147.31"/>
<use href="#s" x="1237.31" y="570.29"/>
<use href="#s" x="660.29" y="1147.31"/>
<use href="#s" x="1407.03" y="472.23"/>
<use href="#s" x="562.23" y="1317.03"/>
<use href="#s" x="1410.80" y="476.00"/>
<use href="#s" x="566.00" y="1320.80"/>
<use href="#s" x="1418.34" y="468.46"/>
<use href="#s" x="558.46" y="1328.34"/>
<use href="#s" x="1425.89" y="468.46"/>
<use href="#s" x="558.46" y="1335.89"/>
<use href="#s" x="1418.34" y="498.63"/>
<use href="#s" x="588.63" y="1328.34"/>
<use href="#s" x="1422.11" y="498.63"/>
<use href="#s" x="588.63" y="1332.11"/>
<use href="#s" x="1425.89" y="498.63"/>
<use href="#s" x="588.63" y="1335.89"/>
<use href="#s" x="1414.57" y="502.40"/>
<use href="#s" x="592.40" y="1324.57"/>
<use href="#s" x="1418.34" y="502.40"/>
<use href="#s" x="592.40" y="1328.34"/>
<use href="#s" x="1422.11" y="502.40"/>
<use href="#s" x="592.40" y="1332.11"/>
<use href="#s" x="1425.89" y="502.40"/>
<use href="#s" x="592.40" y="1335.89"/>
<use href="#s" x="1414.57" y="506.17"/>
<use href="#s" x="596.17" y="1324.57"/>
<use href="#s" x="1418.34" y="506.17"/>
<use href="#s" x="596.17" y="1328.34"/>
<use href="#s" x="1422.11" y="506.17"/>
<use href="#s" x="596.17" y="1332.11"/>
<use href="#s" x="1425.89" y="506.17"/>
<use href="#s" x="596.17" y="1335.89"/>
<use href="#s" x="1418.34" y="509.94"/>
<use href="#s" x="599.94" y="1328.34"/>
<use href="#s" x="1422.11" y="509.94"/>
<use href="#s" x="599.94" y="1332.11"/>
<use href="#s" x="1425.89" y="509.94"/>
<use href="#s" x="599.94" y="1335.89"/>
<use href="#s" x="1429.66" y="509.94"/>
<use href="#s" x="599.94" y="1339.66"/>
<use href="#s" x="1433.43" y="509.94"/>
<use href="#s" x="599.94" y="1343.43"/>
<use href="#s" x="1425.89" y="513.71"/>
<use href="#s" x="603.71" y="1335.89"/>
<use href="#s" x="1429.66" y="513.71"/>
<use href="#s" x="603.71" y="1339.66"/>
<use href="#s" x="1433.43" y="513.71"/>
<use href="#s" x="603.71" y="1343.43"/>
<use href="#s" x="1433.43" y="517.49"/>
<use href="#s" x="607.49" y="1343.43"/>
<use href="#s" x="1437.20" y="517.49"/>
<use href="#s" x="607.49" y="1347.20"/>
<use href="#s" x="1437.20" y="525.03"/>
<use href="#s" x="615.03" y="1347.20"/>
<use href="#s" x="1437.20" y="532.57"/>
<use href="#s" x="622.57" y="1347.20"/>
<use href="#s" x="1444.74" y="536.34"/>
<use href="#s" x="626.34" y="1354.74"/>
<use href="#s" x="1429.66" y="558.97"/>
<use href="#s" x="648.97" y="1339.66"/>
<use href="#s" x="1437.20" y="558.97"/>
<use href="#s" x="648.97" y="1347.20"/>
<use href="#s" x="1429.66" y="562.74"/>
<use href="#s" x="652.74" y="1339.66"/>
<use href="#s" x="1425.89" y="566.51"/>
<use href="#s" x="656.51" y="1335.89"/>
<use href="#s" x="1433.43" y="566.51"/>
<use href="#s" x="656.51" y="1343.43"/>
<use href="#s" x="1429.66" y="570.29"/>
<use href="#s" x="660.29" y="1339.66"/>
<use href="#s" x="1437.20" y="570.29"/>
<use href="#s" x="660.29" y="1347.20"/>
<use href="#s" x="1418.34" y="491.09"/>
<use href="#s" x="581.09" y="1328.34"/>
<use href="#s" x="1418.34" y="494.86"/>
<use href="#s" x="584.86" y="1328.34"/>
<use href="#s" x="1429.66" y="917.26"/>
<use href="#s" x="1007.26" y="1339.66"/>
<use href="#s" x="1418.34" y="841.83"/>
<use href="#s" x="931.83" y="1328.34"/>
<use href="#s" x="1418.34" y="849.37"/>
<use href="#s" x="939.37" y="1328.34"/>
<use href="#s" x="1410.80" y="853.14"/>
<use href="#s" x="943.14" y="1320.80"/>
<use href="#s" x="1410.80" y="860.69"/>
<use href="#s" x="950.69" y="1320.80"/>
<use href="#s" x="1414.57" y="860.69"/>
<use href="#s" x="950.69" y="1324.57"/>
<use href="#s" x="1418.34" y="860.69"/>
<use href="#s" x="950.69" y="1328.34"/>
<use href="#s" x="1422.11" y="860.69"/>
<use href="#s" x="950.69" y="1332.11"/>
<use href="#s" x="1422.11" y="868.23"/>
<use href="#s" x="958.23" y="1332.11"/>
<use href="#s" x="1252.40" y="860.69"/>
<use href="#s" x="950.69" y="1162.40"/>
<use href="#s" x="1252.40" y="864.46"/>
<use href="#s" x="954.46" y="1162.40"/>
<use href="#s" x="1244.86" y="868.23"/>
<use href="#s" x="958.23" y="1154.86"/>
<use href="#s" x="1252.40" y="868.23"/>
<use href="#s" x="958.23" y="1162.40"/>
<use href="#s" x="1237.31" y="913.49"/>
<use href="#s" x="1003.49" y="1147.31"/>
<use href="#s" x="1237.31" y="917.26"/>
<use href="#s" x="1007.26" y="1147.31"/>
<use href="#s" x="1237.31" y="921.03"/>
<use href="#s" x="1011.03" y="1147.31"/>
<use href="#s" x="1241.09" y="917.26"/>
<use href="#s" x="1007.26" y="1151.09"/>
<use href="#s" x="1244.86" y="917.26"/>
<use href="#s" x="1007.26" y="1154.86"/>
<use href="#s" x="1203.37" y="917.26"/>
<use href="#s" x="1007.26" y="1113.37"/>
<use href="#s" x="1203.37" y="921.03"/>
<use href="#s" x="1011.03" y="1113.37"/>
<use href="#s" x="1199.60" y="924.80"/>
<use href="#s" x="1014.80" y="1109.60"/>
<use href="#s" x="1207.14" y="924.80"/>
<use href="#s" x="1014.80" y="1117.14"/>
<use href="#s" x="1203.37" y="928.57"/>
<use href="#s" x="1018.57" y="1113.37"/>
<use href="#s" x="1207.14" y="928.57"/>
<use href="#s" x="1018.57" y="1117.14"/>
<use href="#s" x="1203.37" y="932.34"/>
<use href="#s" x="1022.34" y="1113.37"/>
<use href="#s" x="1207.14" y="932.34"/>
<use href="#s" x="1022.34" y="1117.14"/>
<use href="#s" x="1199.60" y="939.89"/>
<use href="#s" x="1029.89" y="1109.60"/>
<use href="#s" x="1173.20" y="939.89"/>
<use href="#s" x="1029.89" y="1083.20"/>
<use href="#s" x="1173.20" y="943.66"/>
<use href="#s" x="1033.66" y="1083.20"/>
<use href="#s" x="1486.23" y="1045.49"/>
<use href="#s" x="1135.49" y="1396.23"/>
<use href="#s" x="1486.23" y="1056.80"/>
<use href="#s" x="1146.80" y="1396.23"/>
<use href="#s" x="1490.00" y="1056.80"/>
<use href="#s" x="1146.80" y="1400.00"/>
<use href="#s" x="1497.54" y="1056.80"/>
<use href="#s" x="1146.80" y="1407.54"/>
<use href="#s" x="1497.54" y="1060.57"/>
<use href="#s" x="1150.57" y="1407.54"/>
<use href="#s" x="1497.54" y="1064.34"/>
<use href="#s" x="1154.34" y="1407.54"/>
<use href="#s" x="1501.31" y="1064.34"/>
<use href="#s" x="1154.34" y="1411.31"/>
<use href="#s" x="1512.63" y="1241.60"/>
<use href="#s" x="1331.60" y="1422.63"/>
<use href="#s" x="1508.86" y="1249.14"/>
<use href="#s" x="1339.14" y="1418.86"/>
<use href="#s" x="1512.63" y="1249.14"/>
<use href="#s" x="1339.14" y="1422.63"/>
<use href="#s" x="1505.09" y="1252.91"/>
<use href="#s" x="1342.91" y="1415.09"/>
<use href="#s" x="1512.63" y="1252.91"/>
<use href="#s" x="1342.91" y="1422.63"/>
<use href="#s" x="1508.86" y="1256.69"/>
<use href="#s" x="1346.69" y="1418.86"/>
<use href="#s" x="1278.80" y="1094.51"/>
<use href="#s" x="1184.51" y="1188.80"/>
<use href="#s" x="1278.80" y="1098.29"/>
<use href="#s" x="1188.29" y="1188.80"/>
<use href="#s" x="1346.69" y="1068.11"/>
<use href="#s" x="1158.11" y="1256.69"/>
<use href="#s" x="1324.06" y="1139.77"/>
<use href="#s" x="1229.77" y="1234.06"/>
<use href="#s" x="1312.74" y="1068.11"/>
<use href="#s" x="1158.11" y="1222.74"/>
<use href="#s" x="1312.74" y="1079.43"/>
<use href="#s" x="1169.43" y="1222.74"/>
<use href="#s" x="1316.51" y="1079.43"/>
<use href="#s" x="1169.43" y="1226.51"/>
<use href="#s" x="1320.29" y="1079.43"/>
<use href="#s" x="1169.43" y="1230.29"/>
<use href="#s" x="1324.06" y="1079.43"/>
<use href="#s" x="1169.43" y="1234.06"/>
<use href="#s" x="1316.51" y="1086.97"/>
<use href="#s" x="1176.97" y="1226.51"/>
<use href="#s" x="1320.29" y="1086.97"/>
<use href="#s" x="1176.97" y="1230.29"/>
<use href="#s" x="1324.06" y="1086.97"/>
<use href="#s" x="1176.97" y="1234.06"/>
<use href="#s" x="1320.29" y="1094.51"/>
<use href="#s" x="1184.51" y="1230.29"/>
<use href="#s" x="1324.06" y="1094.51"/>
<use href="#s" x="1184.51" y="1234.06"/>
<use href="#s" x="1316.51" y="1094.51"/>
<use href="#s" x="1184.51" y="1226.51"/>
<use href="#s" x="1324.06" y="1098.29"/>
<use href="#s" x="1188.29" y="1234.06"/>
<use href="#s" x="1327.83" y="1098.29"/>
<use href="#s" x="1188.29" y="1237.83"/>
<use href="#s" x="1320.29" y="1098.29"/>
<use href="#s" x="1188.29" y="1230.29"/>
<use href="#s" x="1324.06" y="1102.06"/>
<use href="#s" x="1192.06" y="1234.06"/>
<use href="#s" x="1324.06" y="1105.83"/>
<use href="#s" x="1195.83" y="1234.06"/>
<use href="#s" x="1422.11" y="1090.74"/>
<use href="#s" x="1180.74" y="1332.11"/>
<use href="#s" x="1414.57" y="1094.51"/>
<use href="#s" x="1184.51" y="1324.57"/>
<use href="#s" x="1425.89" y="1094.51"/>
<use href="#s" x="1184.51" y="1335.89"/>
<use href="#s" x="1422.11" y="1098.29"/>
<use href="#s" x="1188.29" y="1332.11"/>
<use href="#s" x="1429.66" y="1098.29"/>
<use href="#s" x="1188.29" y="1339.66"/>
<use href="#s" x="1433.43" y="1098.29"/>
<use href="#s" x="1188.29" y="1343.43"/>
<use href="#s" x="1425.89" y="1102.06"/>
<use href="#s" x="1192.06" y="1335.89"/>
<use href="#s" x="1429.66" y="1102.06"/>
<use href="#s" x="1192.06" y="1339.66"/>
<use href="#s" x="1433.43" y="1102.06"/>
<use href="#s" x="1192.06" y="1343.43"/>
<use href="#s" x="1433.43" y="1105.83"/>
<use href="#s" x="1195.83" y="1343.43"/>
<use href="#s" x="1440.97" y="1105.83"/>
<use href="#s" x="1195.83" y="1350.97"/>
<use href="#s" x="1437.20" y="1113.37"/>
<use href="#s" x="1203.37" y="1347.20"/>
<use href="#s" x="1440.97" y="1113.37"/>
<use href="#s" x="1203.37" y="1350.97"/>
<use href="#s" x="1440.97" y="1117.14"/>
<use href="#s" x="1207.14" y="1350.97"/>
<use href="#s" x="1448.51" y="1117.14"/>
<use href="#s" x="1207.14" y="1358.51"/>
<use href="#s" x="1440.97" y="1120.91"/>
<use href="#s" x="1210.91" y="1350.97"/>
<use href="#s" x="1448.51" y="1120.91"/>
<use href="#s" x="1210.91" y="1358.51"/>
<use href="#s" x="1440.97" y="1124.69"/>
<use href="#s" x="1214.69" y="1350.97"/>
<use href="#s" x="1448.51" y="1124.69"/>
<use href="#s" x="1214.69" y="1358.51"/>
<use href="#s" x="1448.51" y="1128.46"/>
<use href="#s" x="1218.46" y="1358.51"/>
<use href="#s" x="1440.97" y="1128.46"/>
<use href="#s" x="1218.46" y="1350.97"/>
<use href="#s" x="1448.51" y="1132.23"/>
<use href="#s" x="1222.23" y="1358.51"/>
<use href="#s" x="1452.29" y="1132.23"/>
<use href="#s" x="1222.23" y="1362.29"/>
<use href="#s" x="1437.20" y="1136.00"/>
<use href="#s" x="1226.00" y="1347.20"/>
<use href="#s" x="1440.97" y="1136.00"/>
<use href="#s" x="1226.00" y="1350.97"/>
<use href="#s" x="1448.51" y="1136.00"/>
<use href="#s" x="1226.00" y="1358.51"/>
<use href="#s" x="1452.29" y="1136.00"/>
<use href="#s" x="1226.00" y="1362.29"/>
<use href="#s" x="1433.43" y="1139.77"/>
<use href="#s" x="1229.77" y="1343.43"/>
<use href="#s" x="1437.20" y="1139.77"/>
<use href="#s" x="1229.77" y="1347.20"/>
<use href="#s" x="1440.97" y="1139.77"/>
<use href="#s" x="1229.77" y="1350.97"/>
<use href="#s" x="1444.74" y="1139.77"/>
<use href="#s" x="1229.77" y="1354.74"/>
<use href="#s" x="1433.43" y="1143.54"/>
<use href="#s" x="1233.54" y="1343.43"/>
<use href="#s" x="1440.97" y="1143.54"/>
<use href="#s" x="1233.54" y="1350.97"/>
<use href="#s" x="1444.74" y="1143.54"/>
<use href="#s" x="1233.54" y="1354.74"/>
<use href="#s" x="1425.89" y="1147.31"/>
<use href="#s" x="1237.31" y="1335.89"/>
<use href="#s" x="1429.66" y="1147.31"/>
<use href="#s" x="1237.31" y="1339.66"/>
<use href="#s" x="1437.20" y="1147.31"/>
<use href="#s" x="1237.31" y="1347.20"/>
<use href="#s" x="1440.97" y="1147.31"/>
<use href="#s" x="1237.31" y="1350.97"/>
<use href="#s" x="1422.11" y="1151.09"/>
<use href="#s" x="1241.09" y="1332.11"/>
<use href="#s" x="1425.89" y="1151.09"/>
<use href="#s" x="1241.09" y="1335.89"/>
<use href="#s" x="1433.43" y="1151.09"/>
<use href="#s" x="1241.09" y="1343.43"/>
<use href="#s" x="1437.20" y="1151.09"/>
<use href="#s" x="1241.09" y="1347.20"/>
<use href="#s" x="1422.11" y="1154.86"/>
<use href="#s" x="1244.86" y="1332.11"/>
<use href="#s" x="1429.66" y="1154.86"/>
<use href="#s" x="1244.86" y="1339.66"/>
<use href="#s" x="1433.43" y="1154.86"/>
<use href="#s" x="1244.86" y="1343.43"/>
<use href="#s" x="1414.57" y="1158.63"/>
<use href="#s" x="1248.63" y="1324.57"/>
<use href="#s" x="1418.34" y="1158.63"/>
<use href="#s" x="1248.63" y="1328.34"/>
<use href="#s" x="1425.89" y="1158.63"/>
<use href="#s" x="1248.63" y="1335.89"/>
<use href="#s" x="1429.66" y="1158.63"/>
<use href="#s" x="1248.63" y="1339.66"/>
<use href="#s" x="1414.57" y="1162.40"/>
<use href="#s" x="1252.40" y="1324.57"/>
<use href="#s" x="1422.11" y="1162.40"/>
<use href="#s" x="1252.40" y="1332.11"/>
<use href="#s" x="1425.89" y="1162.40"/>
<use href="#s" x="1252.40" y="1335.89"/>
<use href="#s" x="1395.71" y="1177.49"/>
<use href="#s" x="1267.49" y="1305.71"/>
<use href="#s" x="1388.17" y="1181.26"/>
<use href="#s" x="1271.26" y="1298.17"/>
<use href="#s" x="1399.49" y="1185.03"/>
<use href="#s" x="1275.03" y="1309.49"/>
<use href="#s" x="1407.03" y="1177.49"/>
<use href="#s" x="1267.49" y="1317.03"/>
<use href="#s" x="1407.03" y="1181.26"/>
<use href="#s" x="1271.26" y="1317.03"/>
<use href="#s" x="1414.57" y="1177.49"/>
<use href="#s" x="1267.49" y="1324.57"/>
<use href="#s" x="1414.57" y="1181.26"/>
<use href="#s" x="1271.26" y="1324.57"/>
<use href="#s" x="1418.34" y="1181.26"/>
<use href="#s" x="1271.26" y="1328.34"/>
<use href="#s" x="1418.34" y="1185.03"/>
<use href="#s" x="1275.03" y="1328.34"/>
<use href="#s" x="1414.57" y="1188.80"/>
<use href="#s" x="1278.80" y="1324.57"/>
<use href="#s" x="1418.34" y="1188.80"/>
<use href="#s" x="1278.80" y="1328.34"/>
<use href="#s" x="1425.89" y="1188.80"/>
<use href="#s" x="1278.80" y="1335.89"/>
<use href="#s" x="1388.17" y="1196.34"/>
<use href="#s" x="1286.34" y="1298.17"/>
<use href="#s" x="1399.49" y="1196.34"/>
<use href="#s" x="1286.34" y="1309.49"/>
</g><g>
<use href="#t" x="912.97" y="185.60"/>
<use href="#t" x="912.97" y="189.37"/>
<use href="#t" x="912.97" y="196.91"/>
<use href="#t" x="871.49" y="453.37"/>
<use href="#t" x="871.49" y="457.14"/>
<use href="#t" x="916.74" y="577.83"/>
<use href="#t" x="995.94" y="555.20"/>
<use href="#t" x="999.71" y="555.20"/>
<use href="#t" x="992.17" y="558.97"/>
<use href="#t" x="995.94" y="558.97"/>
<use href="#t" x="999.71" y="558.97"/>
<use href="#t" x="1003.49" y="558.97"/>
<use href="#t" x="999.71" y="562.74"/>
<use href="#t" x="999.71" y="675.89"/>
<use href="#t" x="1003.49" y="675.89"/>
<use href="#t" x="999.71" y="679.66"/>
<use href="#t" x="1003.49" y="679.66"/>
<use href="#t" x="995.94" y="683.43"/>
<use href="#t" x="999.71" y="683.43"/>
<use href="#t" x="1003.49" y="683.43"/>
<use href="#t" x="995.94" y="687.20"/>
<use href="#t" x="999.71" y="687.20"/>
<use href="#t" x="1003.49" y="687.20"/>
<use href="#t" x="1440.97" y="1139.77"/>
<use href="#t" x="1437.20" y="1139.77"/>
<use href="#t" x="1433.43" y="1139.77"/>
<use href="#t" x="1437.20" y="1143.54"/>
<use href="#t" x="1433.43" y="1143.54"/>
<use href="#t" x="1433.43" y="1147.31"/>
<use href="#t" x="1429.66" y="1147.31"/>
<use href="#t" x="1429.66" y="1151.09"/>
<use href="#t" x="1433.43" y="1151.09"/>
<use href="#t" x="1425.89" y="1151.09"/>
<use href="#t" x="1429.66" y="1154.86"/>
<use href="#t" x="1425.89" y="1154.86"/>
<use href="#t" x="1425.89" y="1158.63"/>
<use href="#t" x="1422.11" y="1158.63"/>
<use href="#t" x="1422.11" y="1162.40"/>
<use href="#t" x="1437.20" y="1147.31"/>
</g>
<g stroke="#000" stroke-width="3.5" fill="none" stroke-linecap="round" stroke-linejoin="round">
<rect x="120" y="30" width="1450" height="1450"/>
<line x1="170.0" y1="1480" x2="170.0" y2="1509.8"/>
<line x1="120" y1="80.0" x2="90.2" y2="80.0"/>
<line x1="358.6" y1="1480" x2="358.6" y2="1509.8"/>
<line x1="120" y1="268.6" x2="90.2" y2="268.6"/>
<line x1="547.1" y1="1480" x2="547.1" y2="1509.8"/>
<line x1="120" y1="457.1" x2="90.2" y2="457.1"/>
<line x1="735.7" y1="1480" x2="735.7" y2="1509.8"/>
<line x1="120" y1="645.7" x2="90.2" y2="645.7"/>
<line x1="924.3" y1="1480" x2="924.3" y2="1509.8"/>
<line x1="120" y1="834.3" x2="90.2" y2="834.3"/>
<line x1="1112.9" y1="1480" x2="1112.9" y2="1509.8"/>
<line x1="120" y1="1022.9" x2="90.2" y2="1022.9"/>
<line x1="1301.4" y1="1480" x2="1301.4" y2="1509.8"/>
<line x1="120" y1="1211.4" x2="90.2" y2="1211.4"/>
<line x1="1490.0" y1="1480" x2="1490.0" y2="1509.8"/>
<line x1="120" y1="1400.0" x2="90.2" y2="1400.0"/>
</g>
<g font-size="51.6" text-anchor="middle" stroke="#000" stroke-width="0.7" style="font-kerning:none">
<text transform="translate(168.5 1588.6) scale(0.950 1)">0</text>
<text transform="translate(357.1 1588.6) scale(0.950 1)">50</text>
<text transform="translate(545.6 1588.6) scale(0.950 1)">100</text>
<text transform="translate(734.2 1588.6) scale(0.950 1)">150</text>
<text transform="translate(922.8 1588.6) scale(0.950 1)">200</text>
<text transform="translate(1111.4 1588.6) scale(0.950 1)">250</text>
<text transform="translate(1299.9 1588.6) scale(0.950 1)">300</text>
<text transform="translate(1488.5 1588.6) scale(0.950 1)">350</text>
<text transform="translate(49 81.5) rotate(-90) scale(0.950 1)">0</text>
<text transform="translate(49 270.1) rotate(-90) scale(0.950 1)">50</text>
<text transform="translate(49 458.6) rotate(-90) scale(0.950 1)">100</text>
<text transform="translate(49 647.2) rotate(-90) scale(0.950 1)">150</text>
<text transform="translate(49 835.8) rotate(-90) scale(0.950 1)">200</text>
<text transform="translate(49 1024.4) rotate(-90) scale(0.950 1)">250</text>
<text transform="translate(49 1212.9) rotate(-90) scale(0.950 1)">300</text>
<text transform="translate(49 1401.5) rotate(-90) scale(0.950 1)">350</text>
</g>
<text transform="translate(201 1450.3) scale(0.966 1)" font-size="102.6" stroke="#000" stroke-width="1" style="font-kerning:none">Top-L/10</text>
<g font-size="51.2" stroke="#000" stroke-width="0.7" style="font-kerning:none;letter-spacing:0.8px"><text transform="translate(1248.8 107.8) scale(0.95 1)">DNCON2-RR</text><text transform="translate(1248.8 167.8) scale(0.95 1)">Model-RR</text></g>
<use href="#t" x="1202.4" y="90"/><use href="#s" x="1202.4" y="150"/>
</svg></body></html>
